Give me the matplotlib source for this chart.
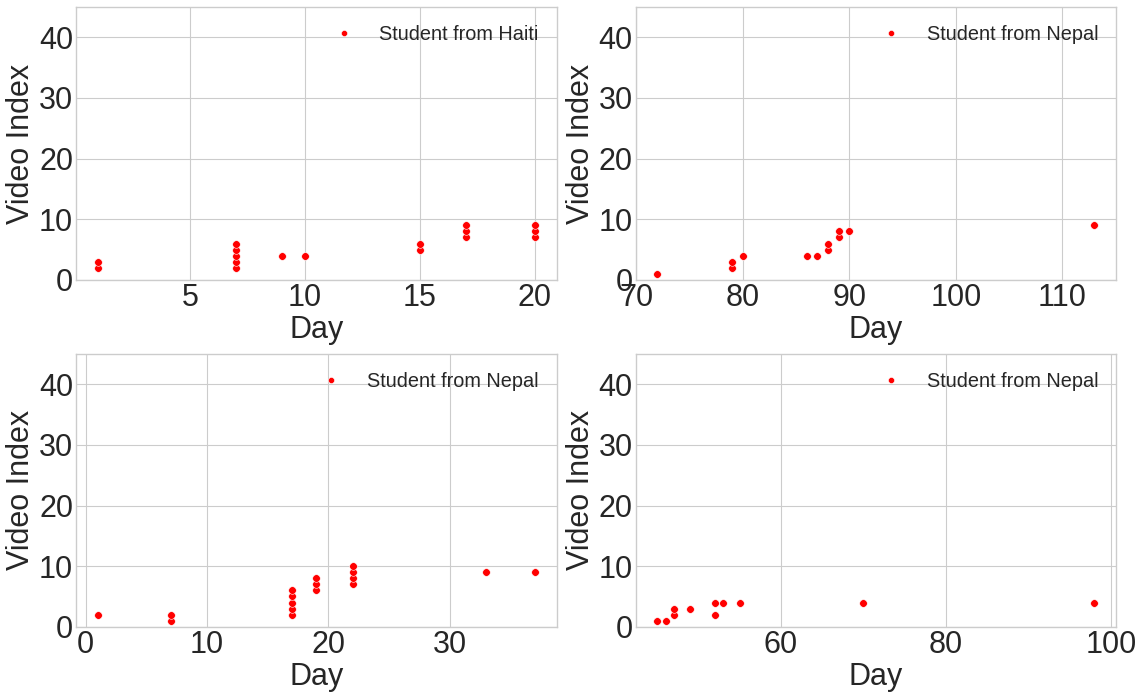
import matplotlib
matplotlib.use("Agg")
import matplotlib.pyplot as plt

# Haiti student
haiti_day = [1, 1, 7, 7, 7, 7, 7, 9, 10, 15, 15, 17, 17, 17, 20, 20, 20]
haiti_video = [2, 3, 2, 3, 4, 5, 6, 4, 4, 5, 6, 7, 8, 9, 7, 8, 9]

# Nepal students
nepal1_day = [72, 79, 79, 80, 86, 87, 88, 88, 89, 89, 90, 113]
nepal1_video = [1, 2, 3, 4, 4, 4, 5, 6, 7, 8, 8, 9]

nepal2_day = [1, 7, 7, 17, 17, 17, 17, 17, 19, 19, 19, 22, 22, 22, 22, 33, 37]
nepal2_video = [2, 1, 2, 2, 3, 4, 5, 6, 6, 7, 8, 7, 8, 9, 10, 9, 9]

nepal3_day = [45, 46, 47, 47, 49, 52, 52, 53, 55, 70, 98]
nepal3_video = [1, 1, 2, 3, 3, 2, 4, 4, 4, 4, 4]

panels = [
    (haiti_day, haiti_video, "Student from Haiti", [5, 10, 15, 20]),
    (nepal1_day, nepal1_video, "Student from Nepal", [70, 80, 90, 100, 110]),
    (nepal2_day, nepal2_video, "Student from Nepal", [0, 10, 20, 30]),
    (nepal3_day, nepal3_video, "Student from Nepal", [60, 80, 100]),
]

plt.style.use("seaborn-v0_8-whitegrid")
plt.rcParams["font.family"] = ["Liberation Sans", "DejaVu Sans"]

fig = plt.figure(figsize=(11.43, 6.98), dpi=100)
lefts = [0.0665, 0.556]
bottoms = [0.599, 0.102]
w = 0.4205
h = 0.391

for i, (x, y, label, ticks) in enumerate(panels):
    ax = fig.add_axes([lefts[i % 2], bottoms[i // 2], w, h])
    ax.plot(x, y, "o", color="red", markersize=5.5, markeredgecolor="white",
            markeredgewidth=0.4, label=label)
    ax.set_ylim(0, 45)
    ax.set_yticks([0, 10, 20, 30, 40])
    ax.set_xticks(ticks)
    lo, hi = min(x), max(x)
    pad = (hi - lo) * 0.05
    ax.set_xlim(lo - pad, hi + pad)
    ax.tick_params(labelsize=22, colors="#262626", pad=2)
    ax.set_xlabel("Day", fontsize=22, color="#262626", labelpad=2)
    ax.set_ylabel("Video Index", fontsize=22, color="#262626", labelpad=2)
    for s in ax.spines.values():
        s.set_visible(True)
        s.set_color("#cccccc")
    ax.legend(loc="upper right", fontsize=14.3, frameon=False, markerscale=0.8)

fig.savefig("out.png", dpi=100)
